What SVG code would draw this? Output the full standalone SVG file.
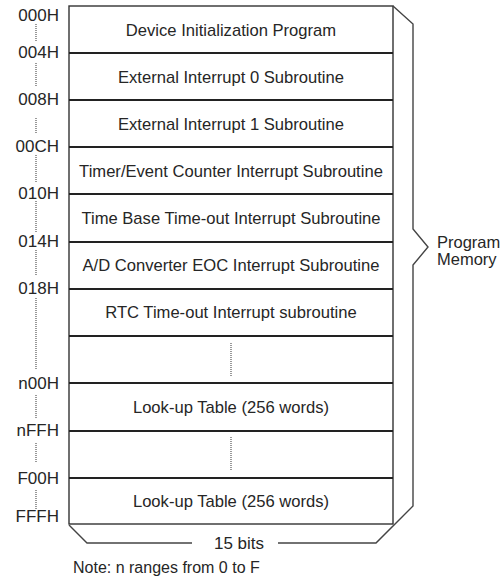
<svg xmlns="http://www.w3.org/2000/svg" width="502" height="582" viewBox="0 0 502 582">
<style>
text{font-family:"Liberation Sans",Arial,sans-serif;fill:#262626}
.row{font-size:16.6px;text-anchor:middle}
.lbl{font-size:17px;text-anchor:end}
.sep{stroke:#222;stroke-width:2;fill:none}
.frame{stroke:#333;stroke-width:1.4;fill:none}
.dot{stroke:#555;stroke-width:1.2;stroke-dasharray:1 1;fill:none}
.brace{stroke:#444;stroke-width:1.4;fill:none}
</style>
<rect width="502" height="582" fill="#fff"/>
<g id="memory-frame">
<rect class="frame" x="69" y="6" width="324" height="518"/>
</g>
<g id="separators">
<line class="sep" x1="69" y1="53" x2="393" y2="53"/>
<line class="sep" x1="69" y1="100" x2="393" y2="100"/>
<line class="sep" x1="69" y1="147" x2="393" y2="147"/>
<line class="sep" x1="69" y1="194" x2="393" y2="194"/>
<line class="sep" x1="69" y1="242" x2="393" y2="242"/>
<line class="sep" x1="69" y1="289" x2="393" y2="289"/>
<line class="sep" x1="69" y1="336" x2="393" y2="336"/>
<line class="sep" x1="69" y1="383" x2="393" y2="383"/>
<line class="sep" x1="69" y1="431" x2="393" y2="431"/>
<line class="sep" x1="69" y1="478" x2="393" y2="478"/>
</g>
<g id="row1"><text class="row" x="231" y="36">Device Initialization Program</text></g>
<g id="row2"><text class="row" x="231" y="83">External Interrupt 0 Subroutine</text></g>
<g id="row3"><text class="row" x="231" y="130">External Interrupt 1 Subroutine</text></g>
<g id="row4"><text class="row" x="231" y="177">Timer/Event Counter Interrupt Subroutine</text></g>
<g id="row5"><text class="row" x="231" y="224">Time Base Time-out Interrupt Subroutine</text></g>
<g id="row6"><text class="row" x="231" y="271">A/D Converter EOC Interrupt Subroutine</text></g>
<g id="row7"><text class="row" x="231" y="318">RTC Time-out Interrupt subroutine</text></g>
<g id="row8"><line class="dot" x1="231" y1="343" x2="231" y2="377"/></g>
<g id="row9"><text class="row" x="231" y="413">Look-up Table (256 words)</text></g>
<g id="row10"><line class="dot" x1="231" y1="437" x2="231" y2="471"/></g>
<g id="row11"><text class="row" x="231" y="507">Look-up Table (256 words)</text></g>
<g id="addresses">
<text class="lbl" x="59" y="21">000H</text>
<text class="lbl" x="59" y="58">004H</text>
<text class="lbl" x="59" y="105">008H</text>
<text class="lbl" x="59" y="152">00CH</text>
<text class="lbl" x="59" y="199">010H</text>
<text class="lbl" x="59" y="247">014H</text>
<text class="lbl" x="59" y="294">018H</text>
<text class="lbl" x="59" y="389">n00H</text>
<text class="lbl" x="59" y="436">nFFH</text>
<text class="lbl" x="59" y="484">F00H</text>
<text class="lbl" x="59" y="522">FFFH</text>
</g>
<g id="address-dots">
<line class="dot" x1="36" y1="24" x2="36" y2="41"/>
<line class="dot" x1="36" y1="63" x2="36" y2="87"/>
<line class="dot" x1="36" y1="118" x2="36" y2="133"/>
<line class="dot" x1="36" y1="155" x2="36" y2="183"/>
<line class="dot" x1="36" y1="201" x2="36" y2="232"/>
<line class="dot" x1="36" y1="250" x2="36" y2="275"/>
<line class="dot" x1="36" y1="298" x2="36" y2="370"/>
<line class="dot" x1="36" y1="395" x2="36" y2="418"/>
<line class="dot" x1="36" y1="443" x2="36" y2="463"/>
<line class="dot" x1="36" y1="490" x2="36" y2="510"/>
</g>
<g id="connectors">
<polyline class="brace" points="393,6 413,24 413,229 428,247 413,265 413,506 376,543 278,543"/>
<polyline class="brace" points="192,543 87,543 69,525"/>
</g>
<g id="program-memory-label">
<text x="437" y="248" style="font-size:16.5px">Program</text>
<text x="437" y="265" style="font-size:16.5px">Memory</text>
</g>
<g id="width-label"><text x="239" y="549" style="font-size:17px;text-anchor:middle">15 bits</text></g>
<g id="note"><text x="73" y="573" style="font-size:16px">Note: n ranges from 0 to F</text></g>
</svg>
